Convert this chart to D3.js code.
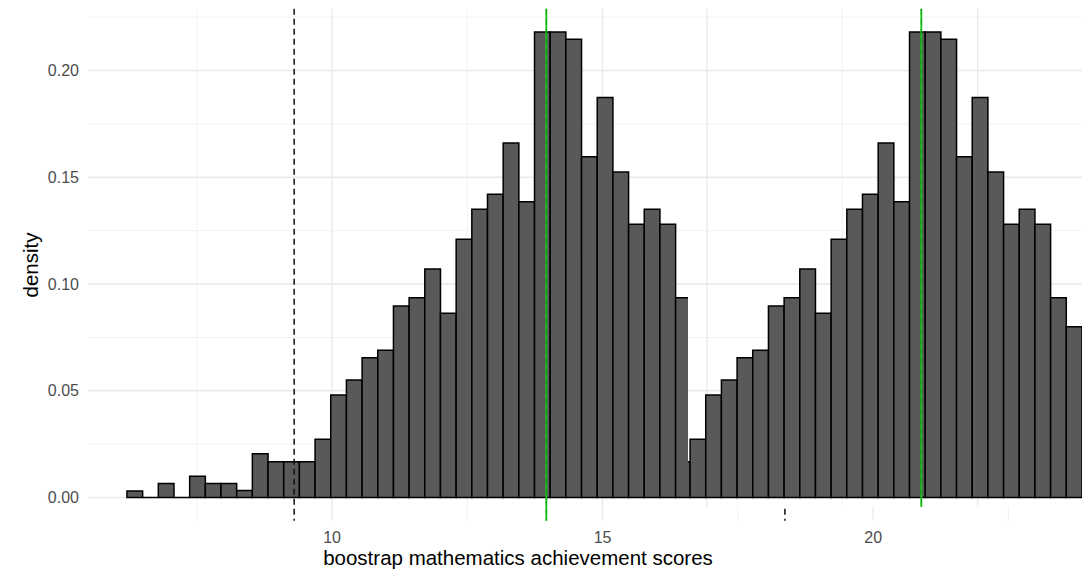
<!DOCTYPE html>
<html>
<head>
<meta charset="utf-8">
<script src="https://cdn.jsdelivr.net/npm/d3@7"></script>
<style>
  body { margin: 0; background: #fff; }
  svg { display: block; }
</style>
</head>
<body>
<svg id="chart" width="1082" height="571"></svg>
<script>
// Bootstrap distribution of mean mathematics achievement scores (density histogram)
const binStart = 6.21;
const binWidth = 0.2897;
const density = [
  0.003, 0, 0.0066, 0, 0.010, 0.0066, 0.0066, 0.0033, 0.0205, 0.0168,
  0.0168, 0.0168, 0.0273, 0.048, 0.055, 0.0655, 0.069, 0.0897, 0.0936, 0.107,
  0.0863, 0.121, 0.135, 0.142, 0.166, 0.1385, 0.218, 0.218, 0.2146, 0.1596,
  0.1873, 0.1525, 0.128, 0.135, 0.128, 0.0936, 0.080
];
const xTicks = [10, 15, 20];
const xMinor = [7.5, 12.5, 17.5, 22.5];
const yTicks = [0, 0.05, 0.10, 0.15, 0.20];
const yMinor = [0.025, 0.075, 0.125, 0.175, 0.225];
const cutoffLines = [9.30, 18.37];   // dashed reference lines
const meanLine = [13.96];            // bootstrap mean

const W = 1082, H = 571;
const x = d3.scaleLinear().domain([5.49, 23.86]).range([88, 1082]);
const y = d3.scaleLinear().domain([0, 0.2]).range([497.5, 70.5]);
const panelTop = y(0.2289), panelBottom = y(-0.0109);
const panelLeft = x.range()[0], panelRight = x.range()[1] + 400;

// the panel is drawn twice: the second pass is offset horizontally
const seamX = 688, seamY = 507, copyShift = 375;

const bins = density.map((d, i) => ({
  x0: binStart + i * binWidth,
  x1: binStart + (i + 1) * binWidth,
  d
}));

const svg = d3.select("#chart");
const defs = svg.append("defs");

const clipA = defs.append("clipPath").attr("id", "clip-main");
clipA.append("rect").attr("x", 0).attr("y", 0).attr("width", seamX).attr("height", H);
clipA.append("rect").attr("x", seamX).attr("y", seamY).attr("width", W - seamX).attr("height", H - seamY);

const clipB = defs.append("clipPath").attr("id", "clip-copy");
clipB.append("rect").attr("x", seamX).attr("y", 0).attr("width", W - seamX).attr("height", seamY);

function barPath(d) {
  const p = d3.path();
  p.moveTo(x(d.x0), y(0));
  p.lineTo(x(d.x0), y(d.d));
  p.lineTo(x(d.x1), y(d.d));
  p.lineTo(x(d.x1), y(0));
  p.closePath();
  return p.toString();
}

function drawPanel(g) {
  // grid
  g.selectAll(".ymin").data(yMinor).join("line")
    .attr("x1", panelLeft).attr("x2", panelRight)
    .attr("y1", d => y(d)).attr("y2", d => y(d))
    .attr("stroke", "#f0f0f0").attr("stroke-width", 0.9);
  g.selectAll(".xmin").data(xMinor).join("line")
    .attr("x1", d => x(d)).attr("x2", d => x(d))
    .attr("y1", panelTop).attr("y2", panelBottom)
    .attr("stroke", "#f0f0f0").attr("stroke-width", 0.9);
  g.selectAll(".ymaj").data(yTicks).join("line")
    .attr("x1", panelLeft).attr("x2", panelRight)
    .attr("y1", d => y(d)).attr("y2", d => y(d))
    .attr("stroke", "#e9e9e9").attr("stroke-width", 1.3);
  g.selectAll(".xmaj").data(xTicks).join("line")
    .attr("x1", d => x(d)).attr("x2", d => x(d))
    .attr("y1", panelTop).attr("y2", panelBottom)
    .attr("stroke", "#e9e9e9").attr("stroke-width", 1.3);

  // histogram bars (empty bins still leave an outline on the baseline)
  g.selectAll(".bar").data(bins).join("path")
    .attr("d", barPath)
    .attr("fill", "#595959")
    .attr("stroke", "#000")
    .attr("stroke-width", 1.5);

  // reference lines
  g.selectAll(".cut").data(cutoffLines).join("line")
    .attr("x1", d => x(d)).attr("x2", d => x(d))
    .attr("y1", panelTop).attr("y2", panelBottom)
    .attr("stroke", "#111").attr("stroke-width", 1.5)
    .attr("stroke-dasharray", "6,4");
  g.selectAll(".mean").data(meanLine).join("line")
    .attr("x1", d => x(d)).attr("x2", d => x(d))
    .attr("y1", panelTop).attr("y2", panelBottom)
    .attr("stroke", "#14c814").attr("stroke-width", 1.9);
  g.selectAll(".meanDash").data(meanLine).join("line")
    .attr("x1", d => x(d)).attr("x2", d => x(d))
    .attr("y1", panelTop).attr("y2", panelBottom)
    .attr("stroke", "#1a5a1a").attr("stroke-width", 0.7)
    .attr("stroke-opacity", 0.55)
    .attr("stroke-dasharray", "6,4");
}

const main = svg.append("g").attr("clip-path", "url(#clip-main)");
drawPanel(main.append("g"));

const copy = svg.append("g").attr("clip-path", "url(#clip-copy)");
drawPanel(copy.append("g").attr("transform", `translate(${copyShift},0)`));

// axes text
const font = "'Liberation Sans', Arial, sans-serif";
main.selectAll(".xlab").data(xTicks).join("text")
  .attr("x", d => x(d)).attr("y", 543)
  .attr("text-anchor", "middle")
  .attr("font-family", font).attr("font-size", 16)
  .attr("fill", "#4d4d4d")
  .text(d => d3.format("d")(d));

svg.selectAll(".ylab").data(yTicks).join("text")
  .attr("x", 79).attr("y", d => y(d))
  .attr("dy", "0.35em")
  .attr("text-anchor", "end")
  .attr("font-family", font).attr("font-size", 16)
  .attr("fill", "#4d4d4d")
  .text(d => d3.format(".2f")(d));

svg.append("text")
  .attr("x", 518).attr("y", 565)
  .attr("text-anchor", "middle")
  .attr("font-family", font).attr("font-size", 20.5)
  .attr("fill", "#000")
  .text("boostrap mathematics achievement scores");

svg.append("text")
  .attr("transform", "translate(38,265) rotate(-90)")
  .attr("text-anchor", "middle")
  .attr("font-family", font).attr("font-size", 20.5)
  .attr("fill", "#000")
  .text("density");
</script>
</body>
</html>
